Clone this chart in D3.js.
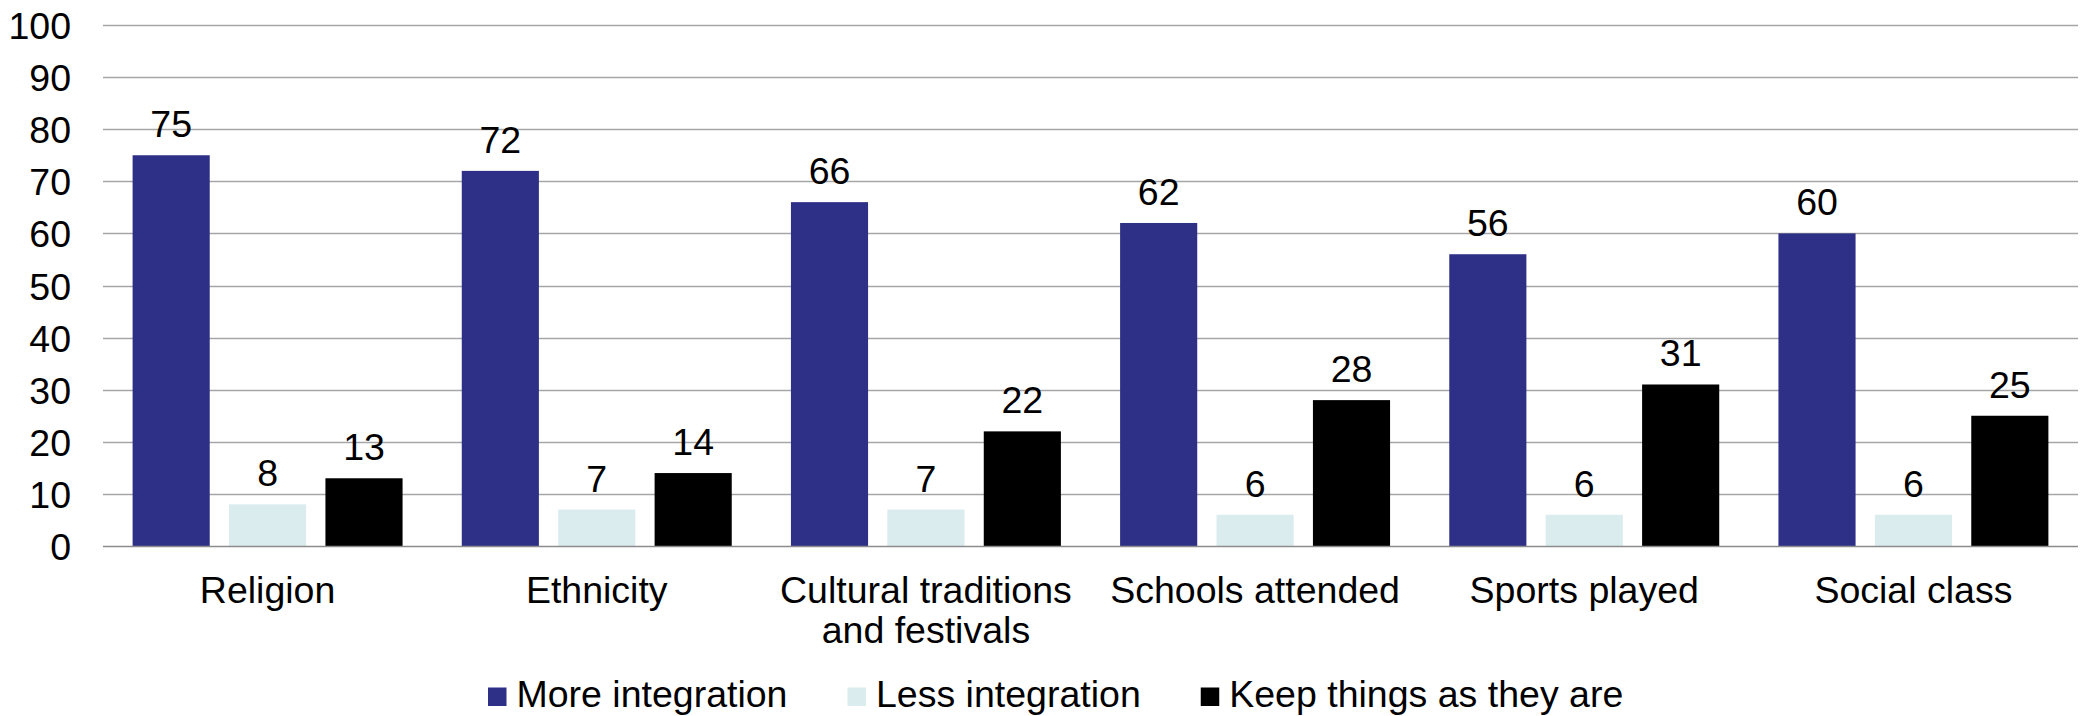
<!DOCTYPE html>
<html>
<head>
<meta charset="utf-8">
<script src="https://cdn.jsdelivr.net/npm/d3@7"></script>
<style>
  html, body { margin: 0; padding: 0; background: #ffffff; }
  svg { display: block; font-family: "Liberation Sans", Arial, sans-serif; }
</style>
</head>
<body>
<svg id="chart" width="2085" height="716"></svg>
<script>
// Survey categories (line breaks marked with "\n")
const categories = [
  "Religion",
  "Ethnicity",
  "Cultural traditions\nand festivals",
  "Schools attended",
  "Sports played",
  "Social class"
];

// Series names and values (%)
const seriesNames = ["More integration", "Less integration", "Keep things as they are"];
const moreIntegration = [75, 72, 66, 62, 56, 60];
const lessIntegration = [8, 7, 7, 6, 6, 6];
const keepAsTheyAre   = [13, 14, 22, 28, 31, 25];
const seriesColors = ["#2e3087", "#daecee", "#000000"];

const yTicks = [0, 10, 20, 30, 40, 50, 60, 70, 80, 90, 100];

const seriesValues = [moreIntegration, lessIntegration, keepAsTheyAre];

const width = 2085, height = 716;
const margin = { top: 25, right: 7, bottom: 170, left: 103 };
const fontSize = 37.5;

const svg = d3.select("#chart");

const x0 = d3.scaleBand()
  .domain(categories)
  .range([margin.left, width - margin.right])
  .paddingInner(0)
  .paddingOuter(0);

const groupPad = 29.6;
const x1 = d3.scaleBand()
  .domain(seriesNames)
  .range([groupPad, x0.bandwidth() - groupPad])
  .paddingInner(0.2)
  .paddingOuter(0);

const y = d3.scaleLinear()
  .domain([0, 100])
  .range([height - margin.bottom, margin.top]);

// Horizontal gridlines
svg.append("g")
  .selectAll("line")
  .data(yTicks.filter(d => d !== 0))
  .join("line")
  .attr("x1", margin.left)
  .attr("x2", width - margin.right)
  .attr("y1", d => Math.round(y(d)) + 0.5)
  .attr("y2", d => Math.round(y(d)) + 0.5)
  .attr("stroke", "#a6a6a6")
  .attr("stroke-width", 1.3);

// Y axis labels
const yAxis = d3.axisLeft(y).tickValues(yTicks).tickSize(0).tickPadding(0);
const gy = svg.append("g")
  .attr("transform", `translate(71,0)`)
  .call(yAxis);
gy.select(".domain").remove();
gy.selectAll("text")
  .attr("font-family", "Liberation Sans, Arial, sans-serif")
  .attr("font-size", fontSize)
  .attr("fill", "#000")
  .attr("dy", "0.36em");

// Bars
const rows = categories.map((c, i) => ({
  category: c,
  values: seriesNames.map((s, j) => ({ series: s, value: seriesValues[j][i], color: seriesColors[j] }))
}));

const groups = svg.append("g")
  .selectAll("g")
  .data(rows)
  .join("g")
  .attr("transform", d => `translate(${x0(d.category)},0)`);

groups.selectAll("rect")
  .data(d => d.values)
  .join("rect")
  .attr("x", d => x1(d.series))
  .attr("width", x1.bandwidth())
  .attr("y", d => y(d.value))
  .attr("height", d => y(0) - y(d.value))
  .attr("fill", d => d.color);

// Value labels
groups.selectAll("text.value")
  .data(d => d.values)
  .join("text")
  .attr("class", "value")
  .attr("x", d => x1(d.series) + x1.bandwidth() / 2)
  .attr("y", d => y(d.value) - 18)
  .attr("text-anchor", "middle")
  .attr("font-size", fontSize)
  .attr("fill", "#000")
  .text(d => d.value);

// Baseline
svg.append("line")
  .attr("x1", margin.left)
  .attr("x2", width - margin.right)
  .attr("y1", Math.round(y(0)) + 0.5)
  .attr("y2", Math.round(y(0)) + 0.5)
  .attr("stroke", "#8c8c8c")
  .attr("stroke-width", 1.5);

// Category labels
const catLabels = svg.append("g")
  .selectAll("text")
  .data(categories)
  .join("text")
  .attr("x", d => x0(d) + x0.bandwidth() / 2)
  .attr("y", 603)
  .attr("text-anchor", "middle")
  .attr("font-size", fontSize)
  .attr("fill", "#000");

catLabels.selectAll("tspan")
  .data(d => d.split("\n").map((line, i) => ({ line, i, cx: x0(d) + x0.bandwidth() / 2 })))
  .join("tspan")
  .attr("x", d => d.cx)
  .attr("dy", d => d.i === 0 ? 0 : 40)
  .text(d => d.line);

// Legend
const legend = svg.append("g");
let lx = 488;
const legendBaseline = 706.5;
seriesNames.forEach((name, i) => {
  legend.append("rect")
    .attr("x", lx)
    .attr("y", 687.5)
    .attr("width", 18.5)
    .attr("height", 18.5)
    .attr("fill", seriesColors[i]);
  const t = legend.append("text")
    .attr("x", lx + 28.5)
    .attr("y", legendBaseline)
    .attr("font-size", fontSize)
    .attr("fill", "#000")
    .text(name);
  lx = lx + 28.5 + t.node().getComputedTextLength() + 60;
});
</script>
</body>
</html>
